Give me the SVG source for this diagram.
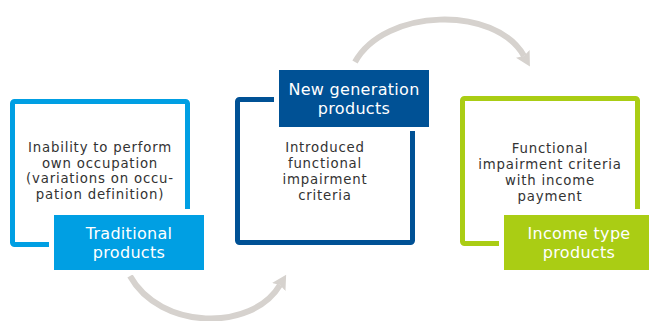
<svg xmlns="http://www.w3.org/2000/svg" width="649" height="321" viewBox="0 0 649 321">
  <style>
    .frame { fill: none; stroke-width: 5; }
    .gap { fill: #ffffff; }
    .body { font-family: "DejaVu Sans", "Noto Sans", sans-serif; font-size: 13.3px; letter-spacing: 0.8px; fill: #333333; text-anchor: middle; }
    .label { font-family: "DejaVu Sans", "Noto Sans", sans-serif; font-size: 16px; letter-spacing: 0.3px; fill: #ffffff; text-anchor: middle; }
    .flow { fill: none; stroke: #d6d2ce; stroke-width: 6; }
  </style>
  <defs>
    <marker id="head" markerWidth="2.5" markerHeight="2.7" refX="0.4" refY="1.3" orient="auto" markerUnits="strokeWidth">
      <path d="M0,0 L2.4,1.3 L0,2.6 L0.4,1.3 Z" fill="#d6d2ce"/>
    </marker>
  </defs>

  <g id="connectors">
    <path class="flow" d="M130 276 C 160 330, 252 332, 280 285" marker-end="url(#head)"/>
    <path class="flow" d="M355 62 C 385 8, 495 5, 524 56" marker-end="url(#head)"/>
  </g>

  <g id="traditional">
    <rect class="frame" x="12.5" y="101.5" width="175" height="143" rx="2" stroke="#009fe3"/>
    <rect class="gap" x="49" y="209" width="160" height="66"/>
    <rect x="54" y="215" width="150" height="55" fill="#009fe3"/>
    <text class="body" x="100" y="152">Inability to perform</text>
    <text class="body" x="100" y="167.5">own occupation</text>
    <text class="body" x="100" y="183">(variations on occu-</text>
    <text class="body" x="100" y="198.5">pation definition)</text>
    <text class="label" x="129" y="239">Traditional</text>
    <text class="label" x="129" y="258">products</text>
  </g>

  <g id="new-generation">
    <rect class="frame" x="237.5" y="99.5" width="175" height="143" rx="2" stroke="#005195"/>
    <rect class="gap" x="274" y="65" width="160" height="66"/>
    <rect x="279" y="70" width="150" height="57" fill="#005195"/>
    <text class="body" x="325" y="152">Introduced</text>
    <text class="body" x="325" y="168">functional</text>
    <text class="body" x="325" y="184">impairment</text>
    <text class="body" x="325" y="199.5">criteria</text>
    <text class="label" x="354" y="95">New generation</text>
    <text class="label" x="354" y="114">products</text>
  </g>

  <g id="income-type">
    <rect class="frame" x="462.5" y="98.5" width="175" height="145" rx="2" stroke="#aacd14"/>
    <rect class="gap" x="499" y="209" width="160" height="66"/>
    <rect x="504" y="215" width="150" height="55" fill="#aacd14"/>
    <text class="body" x="550" y="153">Functional</text>
    <text class="body" x="550" y="169">impairment criteria</text>
    <text class="body" x="550" y="185">with income</text>
    <text class="body" x="550" y="200.5">payment</text>
    <text class="label" x="579" y="239">Income type</text>
    <text class="label" x="579" y="258">products</text>
  </g>
</svg>
